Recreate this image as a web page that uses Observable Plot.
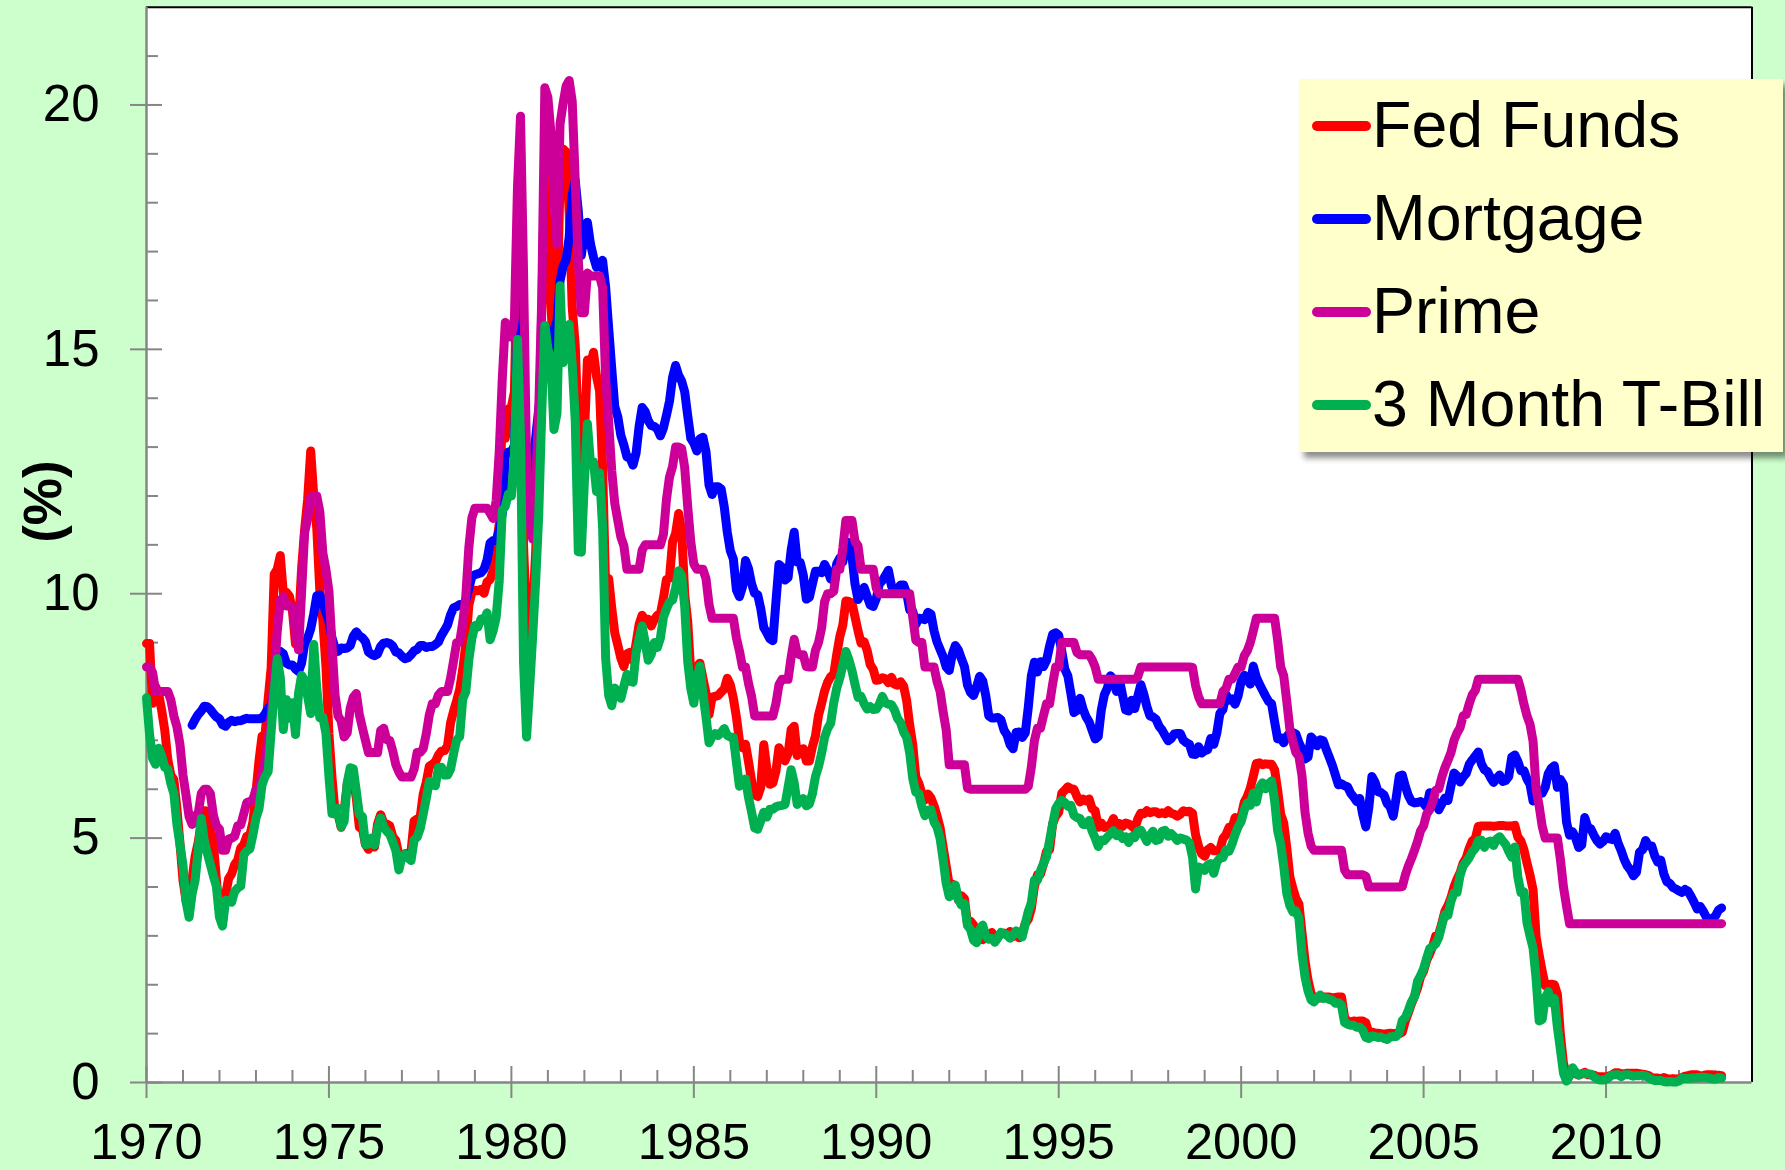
<!DOCTYPE html>
<html>
<head>
<meta charset="utf-8">
<script src="https://cdn.jsdelivr.net/npm/d3@7"></script>
<script src="https://cdn.jsdelivr.net/npm/@observablehq/plot@0.6"></script>
<style>
  html, body { margin: 0; padding: 0; background: #CCFFCC; }
  #wrap { position: relative; width: 1785px; height: 1170px; overflow: hidden; }
  #legend { position: absolute; left: 1299px; top: 79px; width: 484px; height: 373px;
            background: #FFFFCC; box-shadow: 5px 6px 6px rgba(0,0,0,0.45); }
  #legend svg { display: block; }
</style>
</head>
<body>
<div id="wrap"></div>
<script>
// ---------------- DATA (monthly, %) ----------------
const seriesNames = ["Fed Funds", "Mortgage", "Prime", "3 Month T-Bill"];
const seriesColors = ["#FF0000", "#0000FF", "#CC0099", "#00B050"];

// Fed Funds: Jan 1970 .. Mar 2013
const fedFundsStart = 1970;
const fedFunds = [
  8.98, 8.98, 7.76, 8.10, 7.95, 7.61, 7.21, 6.61, 6.29, 6.20, 5.60, 4.90,
  4.14, 3.72, 3.71, 4.16, 4.63, 4.91, 5.31, 5.56, 5.55, 5.20, 4.91, 4.14,
  3.50, 3.29, 3.83, 4.17, 4.27, 4.46, 4.55, 4.80, 4.87, 5.04, 5.06, 5.33,
  5.94, 6.58, 7.09, 7.12, 7.84, 8.49, 10.40, 10.50, 10.78, 10.01, 10.03, 9.95,
  9.65, 8.97, 9.35, 10.51, 11.31, 11.93, 12.92, 12.01, 11.34, 10.06, 9.45, 8.53,
  7.13, 6.24, 5.54, 5.49, 5.22, 5.55, 6.10, 6.14, 6.24, 5.82, 5.22, 5.20,
  4.87, 4.77, 4.84, 4.82, 5.29, 5.48, 5.31, 5.29, 5.25, 5.03, 4.95, 4.65,
  4.61, 4.68, 4.69, 4.73, 5.35, 5.39, 5.42, 5.90, 6.14, 6.47, 6.51, 6.56,
  6.70, 6.78, 6.79, 6.89, 7.36, 7.60, 7.81, 8.04, 8.45, 8.96, 9.76, 10.03,
  10.07, 10.06, 10.09, 10.01, 10.24, 10.29, 10.47, 10.94, 11.43, 13.77, 13.18, 13.78,
  13.82, 14.13, 17.19, 17.61, 10.98, 9.47, 9.03, 9.61, 10.87, 12.81, 15.85, 18.90,
  19.08, 15.93, 14.70, 15.72, 18.52, 19.10, 19.04, 17.82, 15.87, 15.08, 13.31, 12.37,
  13.22, 14.78, 14.68, 14.94, 14.45, 14.15, 12.59, 10.12, 10.31, 9.71, 9.20, 8.95,
  8.68, 8.51, 8.77, 8.80, 8.63, 8.98, 9.37, 9.56, 9.45, 9.48, 9.34, 9.47,
  9.56, 9.59, 9.91, 10.29, 10.32, 11.06, 11.23, 11.64, 11.30, 9.99, 9.43, 8.38,
  8.35, 8.50, 8.58, 8.27, 7.97, 7.53, 7.88, 7.90, 7.92, 7.99, 8.05, 8.27,
  8.14, 7.86, 7.48, 6.99, 6.85, 6.92, 6.56, 6.17, 5.89, 5.85, 6.04, 6.91,
  6.43, 6.10, 6.13, 6.37, 6.85, 6.73, 6.58, 6.73, 7.22, 7.29, 6.69, 6.77,
  6.83, 6.58, 6.58, 6.87, 7.09, 7.51, 7.75, 8.01, 8.19, 8.30, 8.35, 8.76,
  9.12, 9.36, 9.85, 9.84, 9.81, 9.53, 9.24, 8.99, 9.02, 8.84, 8.55, 8.45,
  8.23, 8.24, 8.28, 8.26, 8.18, 8.29, 8.15, 8.13, 8.20, 8.11, 7.81, 7.31,
  6.91, 6.25, 6.12, 5.91, 5.78, 5.90, 5.82, 5.66, 5.45, 5.21, 4.81, 4.43,
  4.03, 4.06, 3.98, 3.73, 3.82, 3.76, 3.25, 3.30, 3.22, 3.10, 3.09, 2.92,
  3.02, 3.03, 3.07, 2.96, 3.00, 3.04, 3.06, 3.03, 3.09, 2.99, 3.02, 2.96,
  3.05, 3.25, 3.34, 3.56, 4.01, 4.25, 4.26, 4.47, 4.73, 4.76, 5.29, 5.45,
  5.53, 5.92, 5.98, 6.05, 6.01, 6.00, 5.85, 5.74, 5.80, 5.76, 5.80, 5.60,
  5.56, 5.22, 5.31, 5.22, 5.24, 5.27, 5.40, 5.22, 5.30, 5.24, 5.31, 5.29,
  5.25, 5.19, 5.39, 5.51, 5.50, 5.56, 5.52, 5.54, 5.54, 5.50, 5.52, 5.50,
  5.56, 5.51, 5.49, 5.45, 5.49, 5.56, 5.54, 5.55, 5.51, 5.07, 4.83, 4.68,
  4.63, 4.76, 4.81, 4.74, 4.74, 4.76, 4.99, 5.07, 5.22, 5.20, 5.42, 5.30,
  5.45, 5.73, 5.85, 6.02, 6.27, 6.53, 6.54, 6.50, 6.52, 6.51, 6.51, 6.40,
  5.98, 5.49, 5.31, 4.80, 4.21, 3.97, 3.77, 3.65, 3.07, 2.49, 2.09, 1.82,
  1.73, 1.74, 1.73, 1.75, 1.75, 1.75, 1.73, 1.74, 1.75, 1.75, 1.34, 1.24,
  1.24, 1.26, 1.25, 1.26, 1.26, 1.22, 1.01, 1.03, 1.01, 1.01, 1.00, 0.98,
  1.00, 1.01, 1.00, 1.00, 1.00, 1.03, 1.26, 1.43, 1.61, 1.76, 1.93, 2.16,
  2.28, 2.50, 2.63, 2.79, 3.00, 3.04, 3.26, 3.50, 3.62, 3.78, 4.00, 4.16,
  4.29, 4.49, 4.59, 4.79, 4.94, 4.99, 5.24, 5.25, 5.25, 5.25, 5.25, 5.24,
  5.25, 5.26, 5.26, 5.25, 5.25, 5.25, 5.26, 5.02, 4.94, 4.76, 4.49, 4.24,
  3.94, 2.98, 2.61, 2.28, 1.98, 2.00, 2.01, 2.00, 1.81, 0.97, 0.39, 0.16,
  0.15, 0.22, 0.18, 0.15, 0.18, 0.21, 0.16, 0.16, 0.15, 0.12, 0.12, 0.12,
  0.11, 0.13, 0.16, 0.20, 0.20, 0.18, 0.18, 0.19, 0.19, 0.19, 0.19, 0.18,
  0.17, 0.16, 0.14, 0.10, 0.09, 0.09, 0.07, 0.10, 0.08, 0.07, 0.08, 0.07,
  0.08, 0.10, 0.13, 0.14, 0.16, 0.16, 0.16, 0.13, 0.14, 0.16, 0.16, 0.16,
  0.14, 0.15, 0.14
];

// 30-year Mortgage: Apr 1971 .. Mar 2013
const mortgageStart = 1971.25;
const mortgage = [
  7.31, 7.43, 7.53, 7.60, 7.70, 7.69, 7.63, 7.55, 7.48,
  7.44, 7.32, 7.29, 7.37, 7.41, 7.38, 7.40, 7.40, 7.43, 7.45, 7.44, 7.44,
  7.44, 7.44, 7.46, 7.54, 7.65, 7.73, 8.05, 8.50, 8.82, 8.77, 8.58, 8.54,
  8.54, 8.46, 8.41, 8.58, 8.97, 9.09, 9.28, 9.59, 9.96, 9.98, 9.79, 9.62,
  9.43, 9.10, 8.89, 8.82, 8.89, 8.88, 8.89, 8.94, 9.13, 9.22, 9.14, 9.10,
  9.02, 8.81, 8.76, 8.73, 8.77, 8.92, 8.99, 9.00, 8.98, 8.93, 8.81, 8.79,
  8.72, 8.67, 8.69, 8.75, 8.83, 8.86, 8.94, 8.94, 8.90, 8.92, 8.92, 8.96,
  9.01, 9.15, 9.25, 9.36, 9.57, 9.71, 9.74, 9.78, 9.76, 9.86, 10.11, 10.35,
  10.39, 10.41, 10.43, 10.50, 10.69, 11.04, 11.09, 11.09, 11.30, 11.64, 12.83, 12.90,
  12.88, 13.04, 15.28, 16.32, 14.26, 12.71, 12.19, 12.56, 13.20, 13.79, 14.21, 14.79,
  14.90, 15.13, 15.40, 15.58, 16.40, 16.70, 16.83, 17.29, 18.16, 18.45, 17.83, 16.92,
  17.40, 17.60, 17.16, 16.89, 16.68, 16.70, 16.82, 16.27, 15.43, 14.61, 13.83, 13.62,
  13.24, 13.04, 12.80, 12.78, 12.63, 12.87, 13.42, 13.81, 13.73, 13.54, 13.44, 13.42,
  13.37, 13.23, 13.39, 13.65, 13.94, 14.42, 14.67, 14.47, 14.35, 14.13, 13.64, 13.18,
  13.08, 12.92, 13.17, 13.20, 12.91, 12.22, 12.03, 12.19, 12.19, 12.14, 11.78, 11.26,
  10.88, 10.71, 10.08, 9.94, 10.14, 10.68, 10.51, 10.20, 10.01, 9.98, 9.70, 9.31,
  9.20, 9.08, 9.04, 9.83, 10.60, 10.54, 10.28, 10.33, 10.89, 11.26, 10.65, 10.64,
  10.38, 9.89, 9.93, 10.20, 10.46, 10.46, 10.43, 10.60, 10.48, 10.30, 10.27, 10.61,
  10.73, 10.65, 11.03, 11.05, 10.77, 10.20, 9.88, 9.99, 10.13, 9.95, 9.77, 9.74,
  9.90, 10.20, 10.27, 10.37, 10.48, 10.16, 10.04, 10.10, 10.18, 10.18, 10.01, 9.67,
  9.64, 9.37, 9.50, 9.49, 9.47, 9.62, 9.58, 9.24, 9.01, 8.86, 8.71, 8.50,
  8.43, 8.76, 8.94, 8.85, 8.67, 8.51, 8.13, 7.98, 7.92, 8.09, 8.31, 8.22,
  7.92, 7.50, 7.46, 7.46, 7.47, 7.42, 7.21, 7.11, 6.91, 6.83, 7.16, 7.17,
  7.06, 7.15, 7.68, 8.32, 8.60, 8.40, 8.61, 8.51, 8.64, 8.93, 9.17, 9.20,
  9.15, 8.83, 8.46, 8.32, 7.96, 7.57, 7.61, 7.86, 7.64, 7.48, 7.38, 7.20,
  7.03, 7.08, 7.62, 7.93, 8.07, 8.32, 8.25, 8.00, 8.23, 7.92, 7.62, 7.60,
  7.82, 7.65, 7.90, 8.14, 7.94, 7.69, 7.50, 7.48, 7.43, 7.29, 7.21, 7.10,
  6.99, 7.04, 7.13, 7.14, 7.14, 7.00, 6.95, 6.92, 6.72, 6.71, 6.87, 6.74,
  6.79, 6.81, 7.04, 6.92, 7.15, 7.55, 7.63, 7.94, 7.82, 7.85, 7.74, 7.91,
  8.21, 8.33, 8.24, 8.15, 8.52, 8.29, 8.15, 8.03, 7.91, 7.80, 7.75, 7.38,
  7.03, 7.05, 6.95, 7.08, 7.15, 7.16, 7.13, 6.95, 6.82, 6.62, 6.66, 7.07,
  7.00, 6.89, 7.01, 6.99, 6.81, 6.65, 6.49, 6.29, 6.09, 6.11, 6.07, 6.05,
  5.92, 5.84, 5.75, 5.81, 5.48, 5.23, 5.63, 6.26, 6.15, 5.95, 5.93, 5.88,
  5.71, 5.64, 5.45, 5.83, 6.27, 6.29, 6.06, 5.87, 5.75, 5.72, 5.73, 5.75,
  5.71, 5.63, 5.93, 5.86, 5.72, 5.58, 5.70, 5.82, 5.77, 6.07, 6.33, 6.27,
  6.15, 6.25, 6.32, 6.51, 6.60, 6.68, 6.76, 6.52, 6.40, 6.36, 6.24, 6.14,
  6.22, 6.29, 6.16, 6.18, 6.26, 6.66, 6.70, 6.57, 6.38, 6.38, 6.21, 6.10,
  5.76, 5.92, 5.97, 5.92, 6.04, 6.32, 6.43, 6.48, 6.04, 6.20, 6.09, 5.33,
  5.06, 5.13, 5.00, 4.81, 4.86, 5.42, 5.22, 5.19, 5.06, 4.95, 4.88, 4.93,
  5.03, 4.99, 4.97, 5.10, 4.89, 4.74, 4.56, 4.43, 4.35, 4.23, 4.30, 4.71,
  4.76, 4.95, 4.84, 4.84, 4.64, 4.51, 4.55, 4.27, 4.11, 4.07, 3.99, 3.96,
  3.92, 3.89, 3.95, 3.91, 3.80, 3.68, 3.55, 3.60, 3.50, 3.38, 3.35, 3.35,
  3.41, 3.53, 3.57
];

// Prime rate: Jan 1970 .. Mar 2013
const primeStart = 1970;
const prime = [
  8.50, 8.50, 8.39, 8.00, 8.00, 8.00, 8.00, 8.00, 7.83, 7.50, 7.28, 6.92,
  6.29, 5.88, 5.44, 5.28, 5.46, 5.50, 5.91, 6.00, 6.00, 5.91, 5.47, 5.25,
  5.18, 4.75, 4.75, 4.98, 5.00, 5.04, 5.25, 5.27, 5.50, 5.73, 5.75, 5.79,
  6.00, 6.02, 6.30, 6.61, 7.01, 7.49, 8.30, 9.23, 9.86, 9.94, 9.75, 9.75,
  9.73, 9.21, 8.85, 10.02, 11.25, 11.54, 11.98, 12.00, 12.00, 11.68, 10.83, 10.50,
  10.05, 8.96, 7.93, 7.50, 7.40, 7.07, 7.15, 7.66, 7.88, 7.96, 7.53, 7.26,
  7.00, 6.75, 6.75, 6.75, 6.75, 7.20, 7.25, 7.01, 7.00, 6.78, 6.50, 6.35,
  6.25, 6.25, 6.25, 6.25, 6.41, 6.75, 6.75, 6.83, 7.13, 7.52, 7.75, 7.75,
  7.93, 8.00, 8.00, 8.00, 8.27, 8.63, 9.00, 9.01, 9.41, 9.94, 10.94, 11.55,
  11.75, 11.75, 11.75, 11.75, 11.75, 11.65, 11.54, 11.91, 12.90, 14.39, 15.55, 15.30,
  15.25, 15.63, 18.31, 19.77, 16.57, 12.63, 11.48, 11.12, 12.23, 13.79, 16.06, 20.35,
  20.16, 19.43, 18.05, 17.15, 19.61, 20.03, 20.39, 20.50, 20.08, 18.45, 16.84, 15.75,
  15.75, 16.56, 16.50, 16.50, 16.50, 16.50, 16.26, 14.39, 13.50, 12.52, 11.85, 11.50,
  11.16, 10.98, 10.50, 10.50, 10.50, 10.50, 10.50, 10.89, 11.00, 11.00, 11.00, 11.00,
  11.00, 11.00, 11.21, 11.93, 12.39, 12.60, 13.00, 13.00, 12.97, 12.58, 11.77, 11.06,
  10.61, 10.50, 10.50, 10.50, 10.31, 9.78, 9.50, 9.50, 9.50, 9.50, 9.50, 9.50,
  9.50, 9.50, 9.10, 8.83, 8.50, 8.50, 8.16, 7.90, 7.50, 7.50, 7.50, 7.50,
  7.50, 7.50, 7.50, 7.75, 8.14, 8.25, 8.25, 8.25, 8.70, 9.07, 8.78, 8.75,
  8.75, 8.51, 8.50, 8.50, 8.84, 9.00, 9.29, 9.84, 10.00, 10.00, 10.05, 10.50,
  10.50, 10.93, 11.50, 11.50, 11.50, 11.07, 10.98, 10.50, 10.50, 10.50, 10.50, 10.50,
  10.11, 10.00, 10.00, 10.00, 10.00, 10.00, 10.00, 10.00, 10.00, 10.00, 10.00, 10.00,
  9.52, 9.05, 9.00, 9.00, 8.50, 8.50, 8.50, 8.50, 8.20, 8.00, 7.58, 7.21,
  6.50, 6.50, 6.50, 6.50, 6.50, 6.50, 6.02, 6.00, 6.00, 6.00, 6.00, 6.00,
  6.00, 6.00, 6.00, 6.00, 6.00, 6.00, 6.00, 6.00, 6.00, 6.00, 6.00, 6.00,
  6.00, 6.00, 6.06, 6.45, 6.99, 7.25, 7.25, 7.51, 7.75, 7.75, 8.15, 8.50,
  8.50, 9.00, 9.00, 9.00, 9.00, 9.00, 8.80, 8.75, 8.75, 8.75, 8.75, 8.65,
  8.50, 8.25, 8.25, 8.25, 8.25, 8.25, 8.25, 8.25, 8.25, 8.25, 8.25, 8.25,
  8.25, 8.25, 8.30, 8.50, 8.50, 8.50, 8.50, 8.50, 8.50, 8.50, 8.50, 8.50,
  8.50, 8.50, 8.50, 8.50, 8.50, 8.50, 8.50, 8.50, 8.49, 8.12, 7.89, 7.75,
  7.75, 7.75, 7.75, 7.75, 7.75, 7.75, 8.00, 8.06, 8.25, 8.25, 8.37, 8.50,
  8.50, 8.73, 8.83, 9.00, 9.24, 9.50, 9.50, 9.50, 9.50, 9.50, 9.50, 9.50,
  9.05, 8.50, 8.32, 7.80, 7.24, 6.98, 6.75, 6.67, 6.28, 5.53, 5.10, 4.84,
  4.75, 4.75, 4.75, 4.75, 4.75, 4.75, 4.75, 4.75, 4.75, 4.75, 4.35, 4.25,
  4.25, 4.25, 4.25, 4.25, 4.25, 4.22, 4.00, 4.00, 4.00, 4.00, 4.00, 4.00,
  4.00, 4.00, 4.00, 4.00, 4.00, 4.01, 4.25, 4.43, 4.58, 4.75, 4.93, 5.15,
  5.25, 5.49, 5.58, 5.75, 5.98, 6.01, 6.25, 6.44, 6.59, 6.75, 7.00, 7.15,
  7.26, 7.50, 7.53, 7.75, 7.93, 8.02, 8.25, 8.25, 8.25, 8.25, 8.25, 8.25,
  8.25, 8.25, 8.25, 8.25, 8.25, 8.25, 8.25, 8.25, 8.03, 7.74, 7.50, 7.33,
  6.98, 6.00, 5.66, 5.24, 5.00, 5.00, 5.00, 5.00, 5.00, 4.56, 4.00, 3.61,
  3.25, 3.25, 3.25, 3.25, 3.25, 3.25, 3.25, 3.25, 3.25, 3.25, 3.25, 3.25,
  3.25, 3.25, 3.25, 3.25, 3.25, 3.25, 3.25, 3.25, 3.25, 3.25, 3.25, 3.25,
  3.25, 3.25, 3.25, 3.25, 3.25, 3.25, 3.25, 3.25, 3.25, 3.25, 3.25, 3.25,
  3.25, 3.25, 3.25, 3.25, 3.25, 3.25, 3.25, 3.25, 3.25, 3.25, 3.25, 3.25,
  3.25, 3.25, 3.25
];

// 3-Month T-Bill: Jan 1970 .. Mar 2013
const tBillStart = 1970;
const tBill = [
  7.87, 7.13, 6.63, 6.51, 6.84, 6.68, 6.45, 6.41, 6.12, 5.91, 5.28, 4.87,
  4.44, 3.70, 3.38, 3.86, 4.14, 4.75, 5.40, 4.94, 4.69, 4.46, 4.22, 4.01,
  3.38, 3.20, 3.73, 3.71, 3.69, 3.91, 3.98, 4.02, 4.66, 4.74, 4.78, 5.07,
  5.41, 5.60, 6.09, 6.26, 6.36, 7.19, 8.01, 8.67, 8.29, 7.22, 7.83, 7.45,
  7.77, 7.12, 7.96, 8.33, 8.23, 7.90, 7.55, 8.96, 8.06, 7.46, 7.47, 7.15,
  6.26, 5.50, 5.49, 5.61, 5.23, 5.34, 6.13, 6.44, 6.42, 5.96, 5.48, 5.44,
  4.87, 4.88, 5.00, 4.86, 5.20, 5.41, 5.23, 5.14, 5.08, 4.92, 4.75, 4.35,
  4.62, 4.67, 4.60, 4.54, 4.96, 5.02, 5.19, 5.49, 5.81, 6.16, 6.10, 6.07,
  6.44, 6.45, 6.29, 6.29, 6.41, 6.73, 7.01, 7.08, 7.85, 7.99, 8.64, 9.08,
  9.35, 9.32, 9.48, 9.46, 9.61, 9.06, 9.24, 9.52, 10.26, 11.70, 11.79, 12.04,
  12.00, 12.86, 15.20, 13.20, 8.58, 7.07, 8.06, 9.13, 10.27, 11.62, 13.73, 15.49,
  15.02, 14.79, 13.36, 13.69, 16.30, 14.73, 14.95, 15.51, 14.70, 13.54, 10.86, 10.85,
  12.28, 13.48, 12.68, 12.70, 12.09, 12.47, 11.35, 8.68, 7.92, 7.71, 8.07, 7.94,
  7.86, 8.11, 8.35, 8.21, 8.19, 8.79, 9.08, 9.34, 9.00, 8.64, 8.76, 9.00,
  8.90, 9.09, 9.52, 9.69, 9.83, 9.87, 10.12, 10.47, 10.37, 9.74, 8.61, 8.06,
  7.76, 8.27, 8.52, 7.95, 7.48, 6.95, 7.08, 7.14, 7.10, 7.16, 7.24, 7.10,
  7.07, 7.06, 6.56, 6.06, 6.15, 6.21, 5.83, 5.53, 5.21, 5.18, 5.35, 5.53,
  5.43, 5.59, 5.59, 5.64, 5.66, 5.67, 5.69, 6.04, 6.40, 6.13, 5.69, 5.77,
  5.81, 5.66, 5.70, 5.91, 6.26, 6.46, 6.73, 7.06, 7.24, 7.35, 7.76, 8.07,
  8.27, 8.53, 8.82, 8.65, 8.43, 8.15, 7.88, 7.90, 7.75, 7.64, 7.69, 7.63,
  7.64, 7.74, 7.90, 7.77, 7.74, 7.73, 7.62, 7.45, 7.36, 7.17, 7.06, 6.74,
  6.22, 5.94, 5.91, 5.65, 5.46, 5.57, 5.58, 5.33, 5.22, 4.99, 4.56, 4.07,
  3.80, 3.84, 4.04, 3.75, 3.63, 3.66, 3.21, 3.13, 2.91, 2.86, 3.13, 3.22,
  3.00, 2.93, 2.95, 2.87, 2.96, 3.07, 3.04, 3.02, 2.95, 3.02, 3.10, 3.06,
  2.98, 3.25, 3.50, 3.68, 4.14, 4.14, 4.33, 4.48, 4.62, 4.95, 5.29, 5.60,
  5.71, 5.77, 5.73, 5.65, 5.67, 5.47, 5.42, 5.40, 5.28, 5.28, 5.36, 5.14,
  5.00, 4.83, 4.96, 4.95, 5.02, 5.09, 5.15, 5.05, 5.09, 4.99, 5.03, 4.91,
  5.03, 5.01, 5.14, 5.16, 5.05, 4.93, 5.05, 5.14, 4.95, 4.97, 5.14, 5.16,
  5.04, 5.09, 5.03, 4.95, 5.00, 4.98, 4.96, 4.90, 4.61, 3.96, 4.41, 4.39,
  4.34, 4.45, 4.48, 4.28, 4.51, 4.59, 4.60, 4.76, 4.73, 4.88, 5.07, 5.23,
  5.34, 5.57, 5.72, 5.67, 5.92, 5.74, 6.03, 6.13, 6.01, 6.11, 6.17, 5.77,
  5.15, 4.88, 4.42, 3.87, 3.62, 3.49, 3.51, 3.36, 2.64, 2.16, 1.87, 1.69,
  1.65, 1.73, 1.79, 1.72, 1.73, 1.70, 1.68, 1.62, 1.63, 1.58, 1.23, 1.19,
  1.17, 1.17, 1.13, 1.13, 1.07, 0.92, 0.90, 0.95, 0.94, 0.92, 0.93, 0.90,
  0.88, 0.93, 0.94, 0.94, 1.02, 1.27, 1.33, 1.48, 1.65, 1.76, 2.07, 2.19,
  2.33, 2.54, 2.74, 2.78, 2.84, 2.97, 3.22, 3.44, 3.42, 3.71, 3.88, 3.89,
  4.24, 4.43, 4.51, 4.60, 4.72, 4.79, 4.95, 4.96, 4.81, 4.92, 4.94, 4.85,
  4.98, 5.03, 4.94, 4.87, 4.73, 4.61, 4.82, 4.20, 3.89, 3.90, 3.27, 3.00,
  2.75, 2.12, 1.26, 1.29, 1.73, 1.86, 1.63, 1.72, 1.13, 0.67, 0.19, 0.03,
  0.13, 0.30, 0.21, 0.16, 0.18, 0.18, 0.18, 0.17, 0.12, 0.07, 0.05, 0.05,
  0.06, 0.11, 0.15, 0.16, 0.16, 0.12, 0.16, 0.16, 0.15, 0.13, 0.14, 0.14,
  0.15, 0.13, 0.10, 0.06, 0.04, 0.04, 0.04, 0.02, 0.01, 0.02, 0.01, 0.01,
  0.03, 0.09, 0.08, 0.08, 0.09, 0.09, 0.10, 0.10, 0.11, 0.10, 0.09, 0.07,
  0.07, 0.10, 0.09
];

// Axis ticks
const xTickLabels = [1970, 1975, 1980, 1985, 1990, 1995, 2000, 2005, 2010];
const xMinorTicks = d3.range(1971, 2014).filter(y => y % 5 !== 0);
const yTickLabels = [0, 5, 10, 15, 20];
const yMinorTicks = d3.range(1, 22).filter(v => v % 5 !== 0);

// ---------------- LAYOUT ----------------
const W = 1785, H = 1170;
const mL = 146, mR = 33.5, mT = 6.7, mB = 88;
const xDomain = [1970, 2014], yDomain = [0, 22];
const pxX = (W - mL - mR) / (xDomain[1] - xDomain[0]);
const pxY = (H - mT - mB) / (yDomain[1] - yDomain[0]);
const GRAY = "#868686";
const FONT = "'Liberation Sans', Arial, Helvetica, sans-serif";

function monthly(name, start, values) {
  return values.map((v, i) => ({series: name, t: start + i / 12, v}));
}
const rows = [
  monthly(seriesNames[0], fedFundsStart, fedFunds),
  monthly(seriesNames[1], mortgageStart, mortgage),
  monthly(seriesNames[2], primeStart, prime),
  monthly(seriesNames[3], tBillStart, tBill)
];

const lineMarks = rows.map((data, k) => Plot.line(data, {
  x: "t", y: "v", stroke: seriesColors[k], strokeWidth: 9,
  strokeLinejoin: "round", strokeLinecap: "round"
}));

const chart = Plot.plot({
  width: W, height: H,
  marginLeft: mL, marginRight: mR, marginTop: mT, marginBottom: mB,
  x: {domain: xDomain, axis: null},
  y: {domain: yDomain, axis: null},
  style: {background: "#CCFFCC", fontFamily: FONT, color: "black", overflow: "visible"},
  marks: [
    Plot.frame({fill: "white", stroke: "none"}),
    // inner ticks
    Plot.ruleX(xMinorTicks, {x: d => d, y1: 0, y2: 12 / pxY, stroke: GRAY, strokeWidth: 2}),
    Plot.ruleX(xTickLabels, {x: d => d, y1: -16 / pxY, y2: 16 / pxY, stroke: GRAY, strokeWidth: 2}),
    Plot.ruleY(yMinorTicks, {y: d => d, x1: xDomain[0], x2: xDomain[0] + 12 / pxX, stroke: GRAY, strokeWidth: 2}),
    Plot.ruleY(yTickLabels, {y: d => d, x1: xDomain[0] - 16 / pxX, x2: xDomain[0] + 16 / pxX, stroke: GRAY, strokeWidth: 2}),
    // border
    Plot.ruleY([yDomain[1]], {stroke: "black", strokeWidth: 2}),
    Plot.ruleX([xDomain[1]], {stroke: "black", strokeWidth: 2}),
    Plot.ruleX([xDomain[0]], {stroke: GRAY, strokeWidth: 2.5}),
    Plot.ruleY([yDomain[0]], {stroke: GRAY, strokeWidth: 2.5}),
    // data
    ...lineMarks,
    // tick labels
    Plot.text(xTickLabels, {x: d => d, frameAnchor: "bottom", lineAnchor: "top", dy: 41,
      text: d => String(d), fontSize: 50.5, fill: "black"}),
    Plot.text(yTickLabels, {y: d => d, frameAnchor: "left", textAnchor: "end", dx: -47,
      text: d => String(d), fontSize: 51, fill: "black"}),
    Plot.text(["(%)"], {frameAnchor: "left", dx: -102, dy: -2, rotate: -90,
      fontWeight: "bold", fontSize: 53, fill: "black"})
  ]
});

const wrap = document.getElementById("wrap");
wrap.appendChild(chart);

// ---------------- LEGEND ----------------
const legend = d3.select(wrap).append("div").attr("id", "legend");
const lsvg = legend.append("svg").attr("width", 484).attr("height", 373);
seriesNames.forEach((name, i) => {
  const base = 67.7 + i * 93;
  lsvg.append("line")
    .attr("x1", 18).attr("x2", 67)
    .attr("y1", base - 20.7).attr("y2", base - 20.7)
    .attr("stroke", seriesColors[i]).attr("stroke-width", 10)
    .attr("stroke-linecap", "round");
  lsvg.append("text")
    .attr("x", 73).attr("y", base)
    .attr("font-family", FONT).attr("font-size", 64.5)
    .attr("fill", "black")
    .text(name);
});
</script>
</body>
</html>
